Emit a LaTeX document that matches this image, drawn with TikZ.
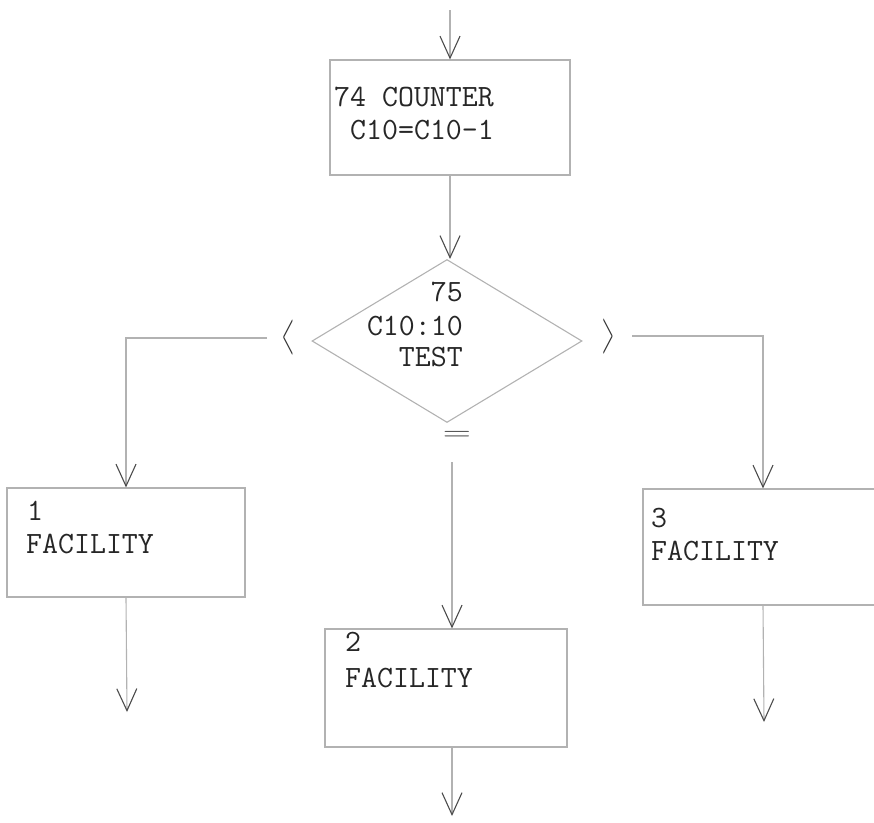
\documentclass[tikz,border=0pt]{standalone}
\usepackage{fontspec}
\usetikzlibrary{arrows.meta,shapes.geometric}
\begin{document}
\begin{tikzpicture}[x=1pt,y=-1pt,
  flow/.style={draw=gray!60, line width=1.1pt},
  tip/.style={-{Straight Barb[length=22pt,width=20pt,line width=1.1pt,color=black!70]}},
  box/.style={flow, rectangle, inner sep=0pt},
  lbl/.style={inner sep=0pt, font=\fontsize{31}{33}\selectfont\ttfamily, text=black!85},
  sign/.style={inner sep=0pt, text=black!80},
  ]
  \clip (0,0) rectangle (874,822);

  % process and decision boxes
  \node[box, minimum width=240pt, minimum height=115pt] (counter) at (450,117.5) {};
  \node[box, diamond, minimum width=270pt, minimum height=163pt] (test) at (447,341) {};
  \node[box, minimum width=238pt, minimum height=109pt] (fac1) at (126,542.5) {};
  \node[box, minimum width=242pt, minimum height=118pt] (fac2) at (446,688) {};
  \node[box, minimum width=240pt, minimum height=116pt] (fac3) at (763,547) {};

  % box texts
  \node[lbl, anchor=base west] (c1) at (334,106) {74 COUNTER};
  \node[lbl, anchor=base west] (c2) at (350,139) {C10=C10-1};
  \node[lbl, anchor=base east] (t1) at (463,301) {75};
  \node[lbl, anchor=base east] (t2) at (463,335) {C10:10};
  \node[lbl, anchor=base east] (t3) at (463,366) {TEST};
  \node[lbl, anchor=base west] (f1a) at (27,520) {1};
  \node[lbl, anchor=base west] (f1b) at (26,553) {FACILITY};
  \node[lbl, anchor=base west] (f2a) at (345,651) {2};
  \node[lbl, anchor=base west] (f2b) at (345,687) {FACILITY};
  \node[lbl, anchor=base west] (f3a) at (651,527) {3};
  \node[lbl, anchor=base west] (f3b) at (651,560) {FACILITY};

  % branch signs of the test
  \node[sign] (lt) at (288,338) {\scalebox{0.35}[1.45]{\fontsize{44}{44}\selectfont <}};
  \node[sign] (gt) at (608,337) {\scalebox{0.35}[1.45]{\fontsize{44}{44}\selectfont >}};
  \node[sign] (eq) at (457,436) {\scalebox{1.3}[0.85]{\fontsize{30}{30}\selectfont =}};

  % free ends of the connectors
  \coordinate (entry) at (450,10);
  \coordinate (ltstart) at (267,338);
  \coordinate (gtstart) at (632,336);
  \coordinate (eqstart) at (452,462);
  \coordinate (exit1) at (127,712);
  \coordinate (exit2) at (452,816);
  \coordinate (exit3) at (764,722);

  % connectors
  \draw[flow, tip] (entry) -- (counter.north);
  \draw[flow, tip] (counter.south) -- (test.north -| counter.south);
  \draw[flow, tip] (ltstart) -| (fac1.north);
  \draw[flow, tip] (gtstart) -| (fac3.north);
  \draw[flow, tip] (eqstart) -- (fac2.north -| eqstart);
  \draw[flow, tip] (fac1.south) -- (exit1);
  \draw[flow, tip] (fac2.south -| exit2) -- (exit2);
  \draw[flow, tip] (fac3.south) -- (exit3);
\end{tikzpicture}
\end{document}
